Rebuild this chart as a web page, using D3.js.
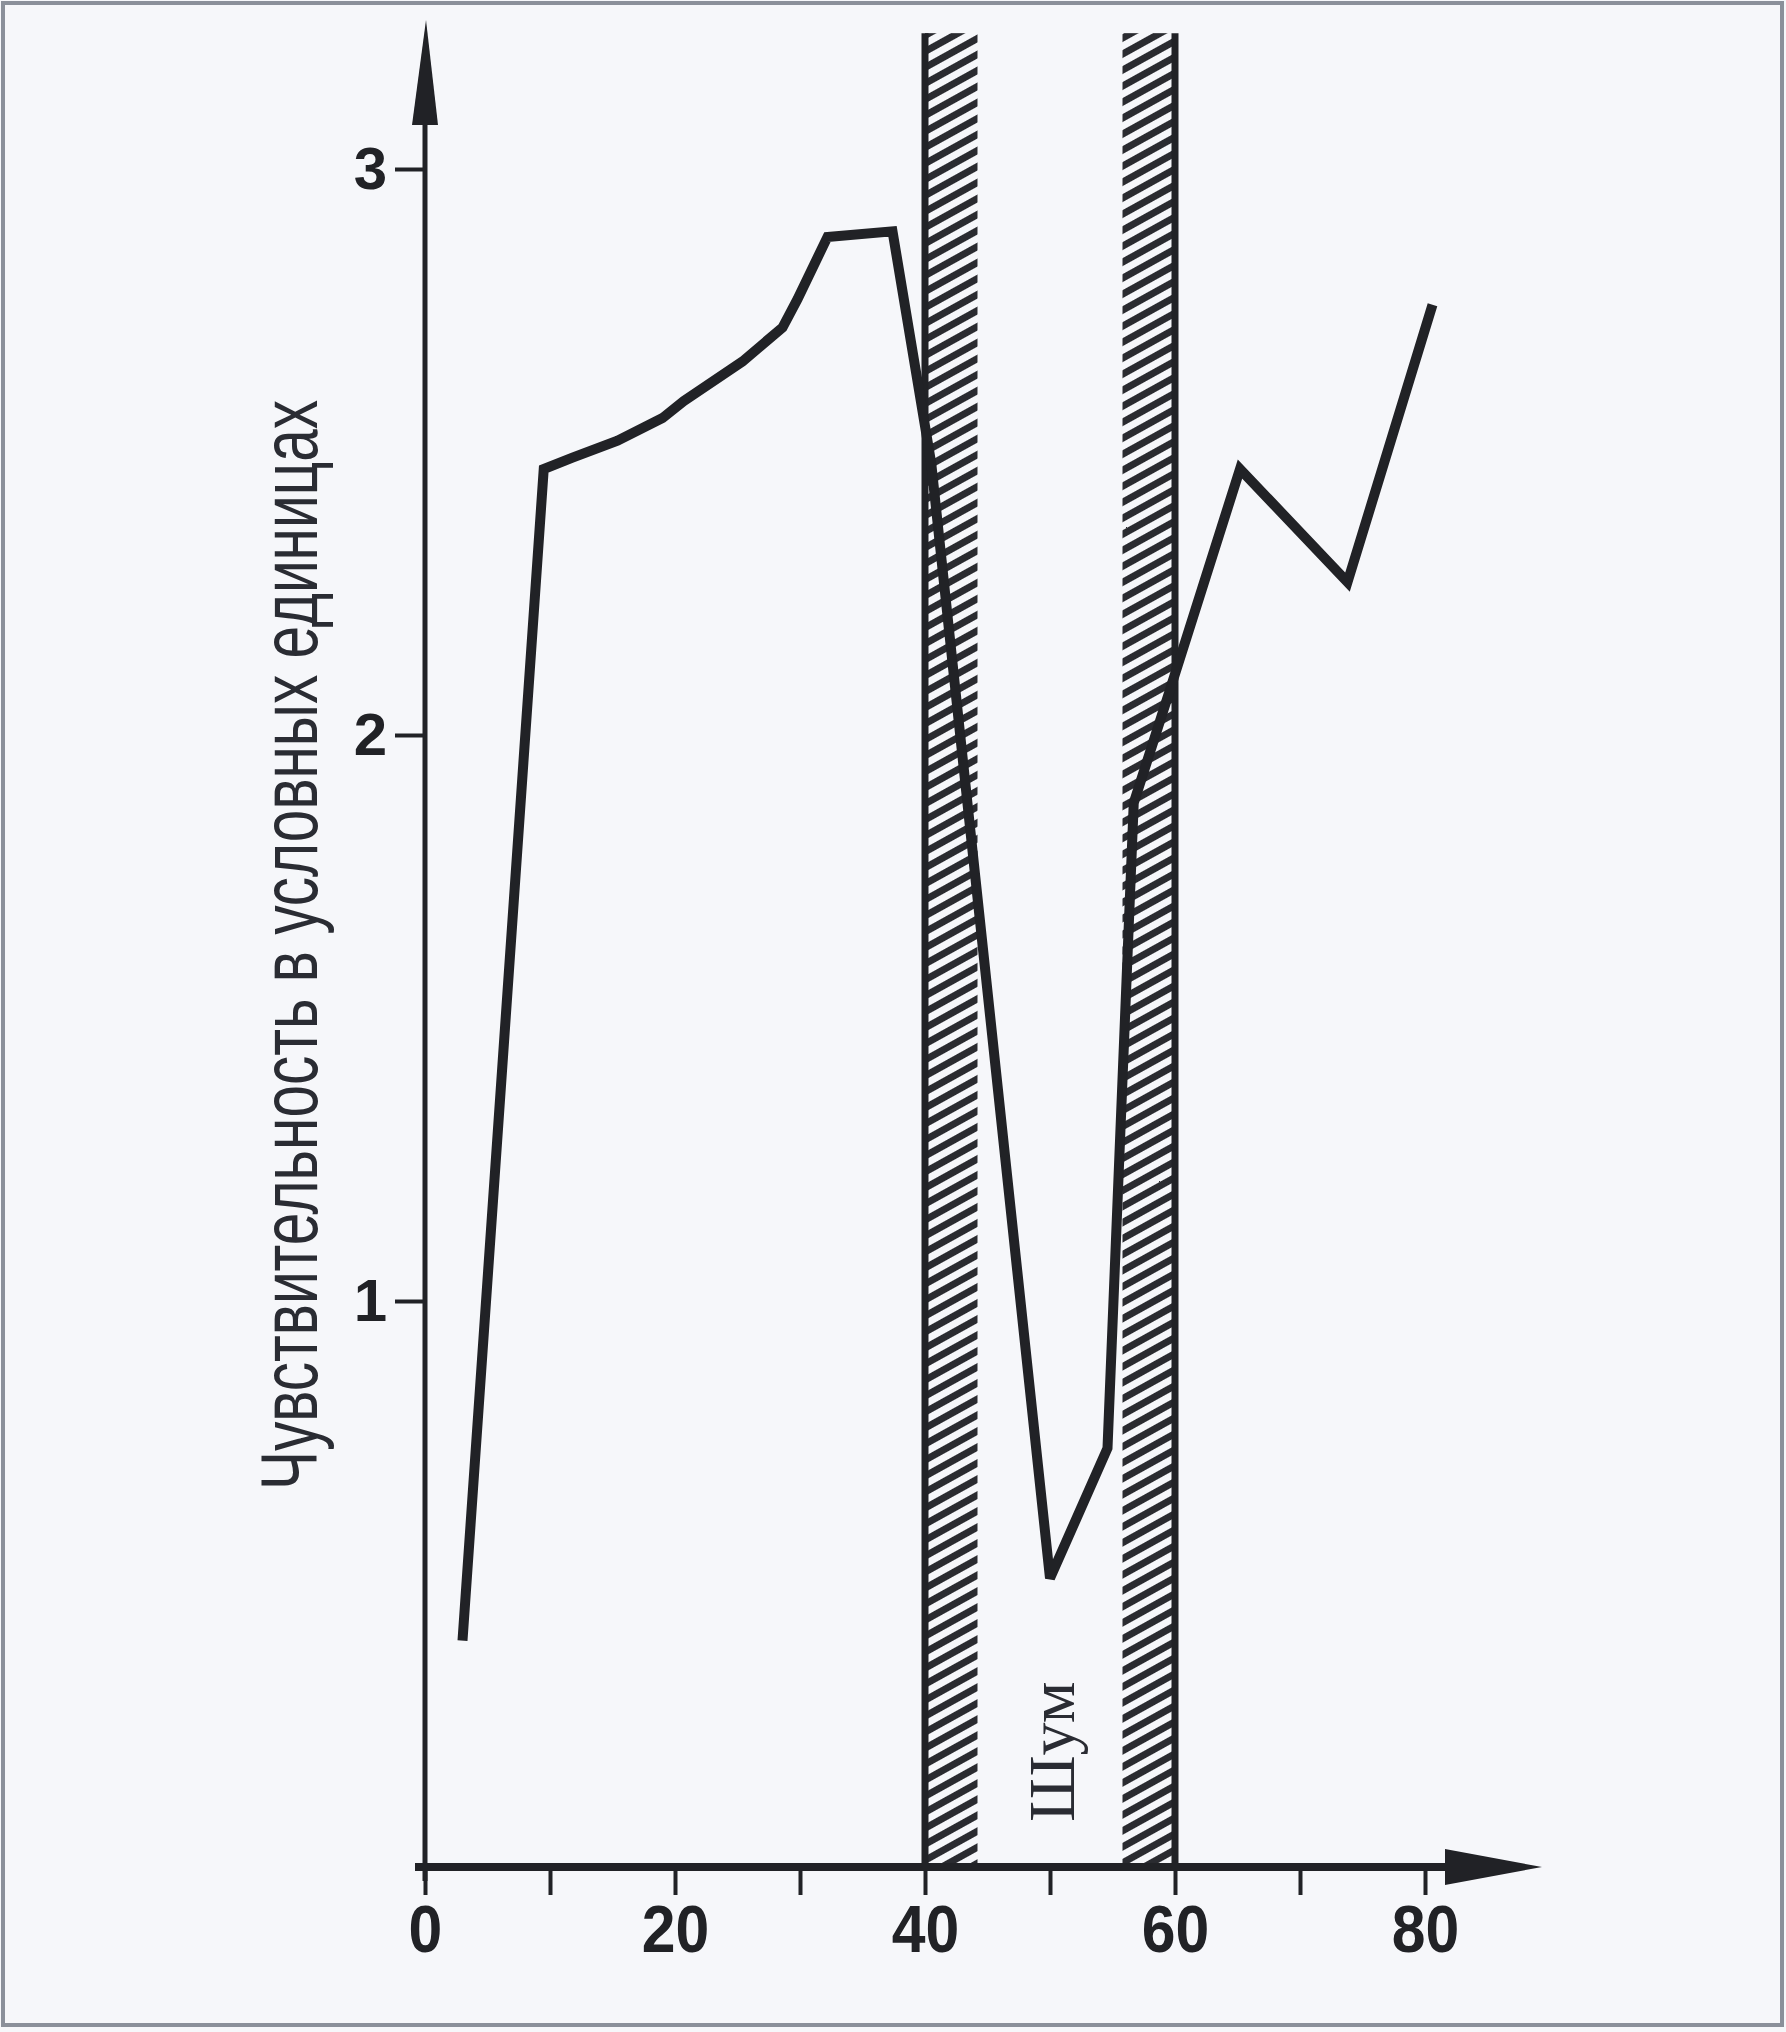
<!DOCTYPE html>
<html>
<head>
<meta charset="utf-8">
<script src="https://cdn.jsdelivr.net/npm/d3@7"></script>
<style>
  html, body { margin: 0; padding: 0; background: #f6f7fa; }
  svg { display: block; }
</style>
</head>
<body>
<svg id="chart" width="1786" height="2032"></svg>
<script>
// ---- data ----
const xValues = [3, 9.5, 11.8, 15.4, 19, 20.7, 25.4, 28.6, 29.8, 32.2, 37.4, 40.5, 50, 54.6, 56.7, 59.6, 65.2, 73.8, 80.6];
const yValues = [0.40, 2.47, 2.49, 2.52, 2.56, 2.59, 2.66, 2.72, 2.77, 2.88, 2.89, 2.48, 0.51, 0.74, 1.88, 2.08, 2.47, 2.27, 2.76];
const xTicks = [0, 10, 20, 30, 40, 50, 60, 70, 80];
const xTickLabels = ["0", "", "20", "", "40", "", "60", "", "80"];
const yTicks = [1, 2, 3];
const yTickLabels = ["1", "2", "3"];
const bandStarts = [40, 55.8];
const bandEnds = [44.2, 60];
const bandEdges = [40, 60];
const bandTop = 3.24;
const yTitle = "Чувствительность в условных единицах";
const noiseLabel = "Шум";

const points = xValues.map((v, i) => ({ x: v, y: yValues[i] }));

// ---- layout ----
const svg = d3.select("#chart");
const ink = "#212226";

svg.append("rect").attr("x", 0).attr("y", 0).attr("width", 1786).attr("height", 2032).attr("fill", "#f6f7fa");
svg.append("rect").attr("x", 3).attr("y", 3).attr("width", 1779).attr("height", 2022)
  .attr("fill", "none").attr("stroke", "#8b909a").attr("stroke-width", 4);

const x = d3.scaleLinear().domain([0, 80]).range([425, 1425]);
const y = d3.scaleLinear().domain([0, 3]).range([1867, 169]);

// hatch pattern
const defs = svg.append("defs");
const pat = defs.append("pattern")
  .attr("id", "hatch")
  .attr("patternUnits", "userSpaceOnUse")
  .attr("width", 14).attr("height", 14)
  .attr("patternTransform", "rotate(-29)");
pat.append("rect").attr("x", 0).attr("y", 0).attr("width", 14).attr("height", 14).attr("fill", "#f6f7fa");
pat.append("rect").attr("x", 0).attr("y", 0).attr("width", 14).attr("height", 7).attr("fill", "#2a2b30");

// bands
svg.append("g").selectAll("rect").data(bandStarts).join("rect")
  .attr("x", (d) => x(d))
  .attr("width", (d, i) => x(bandEnds[i]) - x(d))
  .attr("y", y(bandTop))
  .attr("height", y(0) - y(bandTop))
  .attr("fill", "url(#hatch)");
svg.append("g").selectAll("line").data(bandEdges).join("line")
  .attr("x1", (d) => x(d)).attr("x2", (d) => x(d))
  .attr("y1", y(bandTop)).attr("y2", y(0))
  .attr("stroke", ink).attr("stroke-width", 7);

// x axis
const xAxis = d3.axisBottom(x).tickValues(xTicks).tickSize(28).tickPadding(10)
  .tickFormat((d, i) => xTickLabels[i]);
const gx = svg.append("g").attr("transform", `translate(0,${y(0)})`).call(xAxis);
gx.select(".domain").remove();
gx.selectAll(".tick line").attr("stroke", ink).attr("stroke-width", 4);
gx.selectAll(".tick text")
  .attr("fill", ink)
  .attr("font-family", "'Liberation Sans', Arial, sans-serif")
  .attr("font-weight", "bold")
  .attr("font-size", 66)
  .attr("transform", "scale(0.92,1)")
  .attr("x", function () { return 0; });
gx.selectAll(".tick").each(function (d) {
  d3.select(this).select("text").attr("transform", "scale(0.92,1)");
});

svg.append("line")
  .attr("x1", x(0) - 10).attr("x2", x(0) + 1040)
  .attr("y1", y(0)).attr("y2", y(0))
  .attr("stroke", ink).attr("stroke-width", 8);
svg.append("path")
  .attr("d", `M${x(0) + 1020},${y(0) - 18} L${x(0) + 1117},${y(0)} L${x(0) + 1020},${y(0) + 18} Z`)
  .attr("fill", ink);

// y axis
const yAxis = d3.axisLeft(y).tickValues(yTicks).tickSize(30).tickPadding(8)
  .tickFormat((d, i) => yTickLabels[i]);
const gy = svg.append("g").attr("transform", `translate(${x(0)},0)`).call(yAxis);
gy.select(".domain").remove();
gy.selectAll(".tick line").attr("stroke", ink).attr("stroke-width", 4);
gy.selectAll(".tick text")
  .attr("fill", ink)
  .attr("font-family", "'Liberation Sans', Arial, sans-serif")
  .attr("font-weight", "bold")
  .attr("font-size", 60);

svg.append("line")
  .attr("x1", x(0)).attr("x2", x(0))
  .attr("y1", y(0) + 14).attr("y2", 110)
  .attr("stroke", ink).attr("stroke-width", 5);
svg.append("path")
  .attr("d", `M${x(0) - 13},125 L${x(0) + 1},20 L${x(0) + 13},125 Z`)
  .attr("fill", ink);

// y title
svg.append("text")
  .attr("transform", "translate(317,1490) rotate(-90)")
  .attr("font-family", "'Liberation Sans', Arial, sans-serif")
  .attr("font-size", 80)
  .attr("textLength", 1090)
  .attr("lengthAdjust", "spacingAndGlyphs")
  .attr("fill", "#2a2c33")
  .text(yTitle);

// noise label
svg.append("text")
  .attr("transform", "translate(1074,1822) rotate(-90)")
  .attr("font-family", "'Liberation Serif', 'Times New Roman', serif")
  .attr("font-size", 66)
  .attr("fill", "#2a2c33")
  .text(noiseLabel);

// curve
const line = d3.line().x((d) => x(d.x)).y((d) => y(d.y));
svg.append("path")
  .datum(points)
  .attr("d", line)
  .attr("fill", "none")
  .attr("stroke", ink)
  .attr("stroke-width", 10)
  .attr("stroke-linejoin", "miter")
  .attr("stroke-miterlimit", 3)
  .attr("stroke-linecap", "butt");
</script>
</body>
</html>
